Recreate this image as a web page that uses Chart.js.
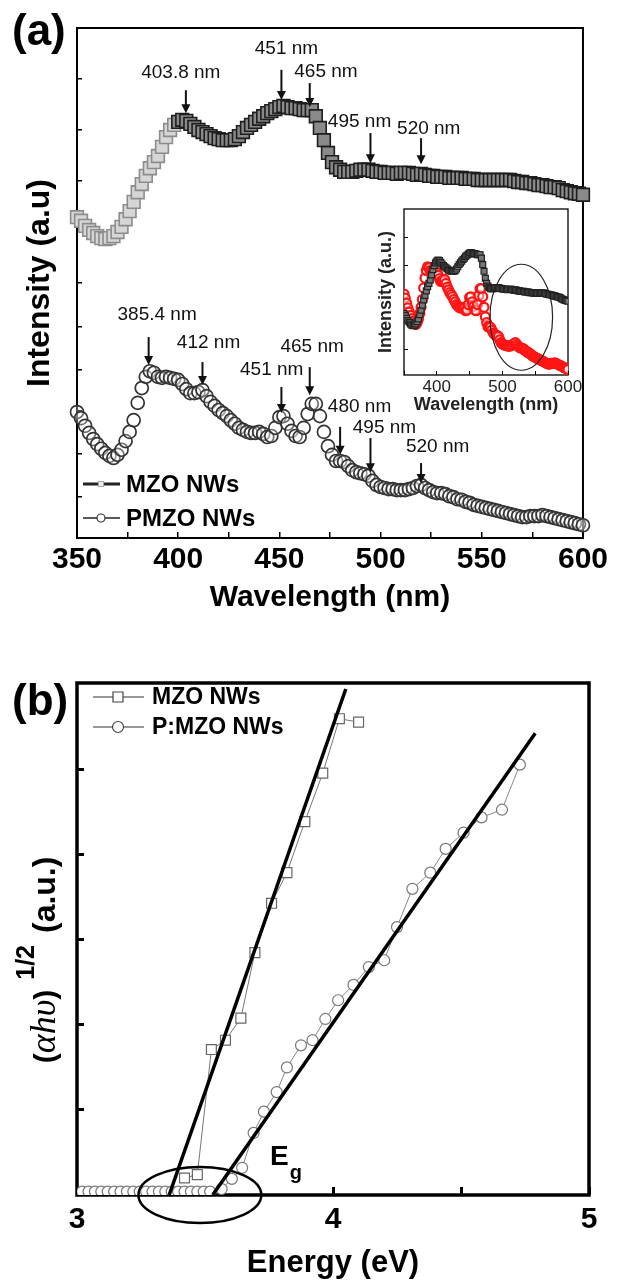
<!DOCTYPE html>
<html>
<head>
<meta charset="utf-8">
<script src="https://cdn.jsdelivr.net/npm/chart.js@4.4.0/dist/chart.umd.min.js"></script>
<style>
  body { margin: 0; background: #fff; width: 618px; height: 1288px; position: relative; overflow: hidden;
         font-family: "Liberation Sans", Arial, sans-serif; }
  .box { position: absolute; }
  .tag { position: absolute; font-weight: bold; font-size: 44px; line-height: 1; }
</style>
</head>
<body>
<div class="box" style="left:0;top:0;width:618px;height:620px"><canvas id="plChart"></canvas></div>
<div class="box" style="left:360px;top:195px;width:250px;height:230px"><canvas id="insetChart"></canvas></div>
<div class="box" style="left:0;top:640px;width:618px;height:648px"><canvas id="taucChart"></canvas></div>
<div class="tag" style="left:12px;top:8px">(a)</div>
<div class="tag" style="left:12px;top:678px">(b)</div>
<script>
Chart.defaults.font.family = '"Liberation Sans", Arial, sans-serif';
Chart.defaults.color = '#000';

// PL spectra, sampled every 2 nm from 350 nm
const wlStart = 350, wlStep = 2;
const mzoPL = [
  6.29, 6.22, 6.12, 6.04, 5.98, 5.92, 5.88, 5.86, 5.88, 5.92,
  6.00, 6.10, 6.25, 6.41, 6.59, 6.78, 6.94, 7.10, 7.25, 7.37,
  7.49, 7.67, 7.86, 8.00, 8.10, 8.16, 8.20, 8.18, 8.12, 8.06,
  8.00, 7.96, 7.92, 7.88, 7.84, 7.82, 7.80, 7.80, 7.80, 7.82,
  7.88, 7.96, 8.04, 8.10, 8.16, 8.22, 8.27, 8.33, 8.37, 8.41,
  8.45, 8.47, 8.45, 8.43, 8.43, 8.41, 8.39, 8.39, 8.39, 8.27,
  8.04, 7.80, 7.55, 7.37, 7.27, 7.22, 7.18, 7.18, 7.18, 7.20,
  7.22, 7.22, 7.22, 7.20, 7.18, 7.18, 7.16, 7.16, 7.16, 7.14,
  7.16, 7.16, 7.16, 7.14, 7.12, 7.14, 7.12, 7.10, 7.10, 7.08,
  7.08, 7.08, 7.06, 7.06, 7.06, 7.06, 7.04, 7.04, 7.04, 7.02,
  7.02, 7.02, 7.02, 7.02, 7.02, 7.02, 7.02, 7.02, 7.00, 6.98,
  6.98, 6.96, 6.96, 6.94, 6.92, 6.92, 6.90, 6.88, 6.88, 6.86,
  6.82, 6.80, 6.78, 6.76, 6.75, 6.73
];
const pmzoPL = [
  2.47, 2.35, 2.20, 2.06, 1.94, 1.84, 1.75, 1.67, 1.61, 1.57,
  1.63, 1.73, 1.90, 2.08, 2.31, 2.65, 2.94, 3.16, 3.27, 3.24,
  3.16, 3.14, 3.16, 3.14, 3.12, 3.10, 3.02, 2.92, 2.84, 2.84,
  2.86, 2.90, 2.78, 2.67, 2.59, 2.51, 2.45, 2.39, 2.31, 2.24,
  2.16, 2.12, 2.08, 2.06, 2.06, 2.08, 2.04, 1.98, 2.00, 2.16,
  2.37, 2.39, 2.24, 2.10, 2.00, 1.98, 2.16, 2.43, 2.63, 2.63,
  2.39, 2.08, 1.80, 1.63, 1.51, 1.51, 1.49, 1.41, 1.33, 1.29,
  1.27, 1.25, 1.22, 1.12, 1.04, 1.00, 0.98, 0.96, 0.96, 0.94,
  0.94, 0.94, 0.96, 0.98, 1.02, 1.04, 0.98, 0.94, 0.90, 0.88,
  0.88, 0.86, 0.82, 0.80, 0.76, 0.75, 0.71, 0.69, 0.65, 0.63,
  0.61, 0.59, 0.57, 0.55, 0.53, 0.51, 0.49, 0.47, 0.45, 0.43,
  0.41, 0.41, 0.43, 0.43, 0.43, 0.45, 0.43, 0.41, 0.39, 0.37,
  0.35, 0.33, 0.31, 0.29, 0.27, 0.25
];
const wavelength = mzoPL.map((_, i) => wlStart + i * wlStep);

const intensityTicks = [0.8, 1.65, 2.5, 3.3, 4.15, 5, 6, 7, 8, 9];
const insetTicks = [5, 6, 7, 8, 9];

// marked emission bands (nm)
const mzoPeaks = [403.8, 451, 465, 495, 520];
const pmzoPeaks = [385.4, 412, 451, 465, 480, 495, 520];

// Tauc plot: energy (eV) vs (alpha h nu)^1/2
const mzoEnergy = [3.42, 3.47, 3.525, 3.58, 3.64, 3.695, 3.76, 3.82, 3.89, 3.96, 4.025, 4.10];
const mzoTauc   = [0.20, 0.24, 1.71, 1.82, 2.08, 2.85, 3.43, 3.79, 4.39, 4.96, 5.60, 5.56];
const pmzoEnergy = [3.02, 3.045, 3.07, 3.095, 3.12, 3.145, 3.17, 3.195, 3.22, 3.245, 3.27,
                    3.295, 3.32, 3.345, 3.37, 3.395, 3.42, 3.445, 3.47, 3.495, 3.52,
                    3.565, 3.605, 3.645, 3.69, 3.73, 3.78, 3.82, 3.875, 3.92, 3.97, 4.02,
                    4.08, 4.14, 4.20, 4.25, 4.31, 4.38, 4.44, 4.51, 4.58, 4.66, 4.73];
const pmzoTauc   = [0.04, 0.04, 0.04, 0.04, 0.04, 0.04, 0.04, 0.04, 0.04, 0.04, 0.04,
                    0.04, 0.04, 0.04, 0.04, 0.04, 0.04, 0.04, 0.04, 0.04, 0.04,
                    0.07, 0.19, 0.32, 0.73, 0.98, 1.21, 1.50, 1.76, 1.82, 2.07, 2.29,
                    2.47, 2.68, 2.76, 3.15, 3.60, 3.79, 4.07, 4.26, 4.44, 4.53, 5.06];
const mzoFitEnergy = [3.36, 4.05],  mzoFitTauc = [0, 5.95];
const pmzoFitEnergy = [3.53, 4.79], pmzoFitTauc = [0, 5.43];
const taucTicks = [1, 2, 3, 4, 5];

const pts = (xs, ys) => xs.map((x, i) => ({ x, y: ys[i] }));
const mzoPts = pts(wavelength, mzoPL);
const pmzoPts = pts(wavelength, pmzoPL);

// caption placement for the arrows: [caption nm, caption level, arrow top, arrow tip]
const mzoPeakPlace = [[401.3, 9.12, 8.78, 8.33], [453.5, 9.59, 9.18, 8.59], [473, 9.14, 8.92, 8.45],
                      [489.6, 8.16, 7.94, 7.35], [523.8, 8.02, 7.84, 7.33]];
const pmzoPeakPlace = [[389.6, 4.37, 3.94, 3.39], [415, 3.82, 3.45, 3.0], [446.2, 3.29, 2.96, 2.45],
                       [466.2, 3.75, 3.35, 2.80], [489.6, 2.57, 2.18, 1.63], [501.9, 2.16, 1.96, 1.29],
                       [528.2, 1.78, 1.47, 1.08]];

function framePlugin(width) {
  return {
    id: 'frame',
    beforeDatasetsDraw(chart) {
      const { ctx, chartArea: a } = chart;
      ctx.save();
      ctx.lineWidth = width;
      ctx.strokeStyle = '#000';
      ctx.strokeRect(a.left, a.top, a.right - a.left, a.bottom - a.top);
      ctx.restore();
    }
  };
}

function drawArrow(ctx, x, y1, y2) {
  ctx.beginPath();
  ctx.moveTo(x, y1);
  ctx.lineTo(x, y2 - 7);
  ctx.stroke();
  ctx.beginPath();
  ctx.moveTo(x - 4.5, y2 - 9);
  ctx.lineTo(x + 4.5, y2 - 9);
  ctx.lineTo(x, y2);
  ctx.closePath();
  ctx.fill();
}

function drawMarker(ctx, style, x, y, r, stroke, fill, lw) {
  ctx.save();
  ctx.lineWidth = lw;
  ctx.strokeStyle = stroke;
  ctx.fillStyle = fill;
  ctx.beginPath();
  if (style === 'rect') ctx.rect(x - r, y - r, 2 * r, 2 * r);
  else ctx.arc(x, y, r, 0, Math.PI * 2);
  ctx.fill();
  ctx.stroke();
  ctx.restore();
}

const peakArrows = {
  id: 'peakArrows',
  afterDatasetsDraw(chart) {
    const { ctx, scales: { x, y } } = chart;
    ctx.save();
    ctx.fillStyle = '#111';
    ctx.strokeStyle = '#111';
    ctx.lineWidth = 2;
    ctx.font = '19px "Liberation Sans", Arial, sans-serif';
    ctx.textAlign = 'center';
    ctx.textBaseline = 'middle';
    const put = (peaks, place) => peaks.forEach((p, i) => {
      const [tx, ty, a1, a2] = place[i];
      ctx.fillText(p + ' nm', x.getPixelForValue(tx), y.getPixelForValue(ty));
      drawArrow(ctx, x.getPixelForValue(p), y.getPixelForValue(a1), y.getPixelForValue(a2));
    });
    put(mzoPeaks, mzoPeakPlace);
    put(pmzoPeaks, pmzoPeakPlace);
    ctx.restore();
  }
};

const plLegend = {
  id: 'plLegend',
  afterDraw(chart) {
    const { ctx, chartArea: a } = chart;
    const rows = [
      { text: 'MZO NWs', y: a.bottom - 54, lw: 3, style: 'rect', r: 2.5, stroke: '#aaa', fill: '#eee' },
      { text: 'PMZO NWs', y: a.bottom - 20, lw: 1.5, style: 'circle', r: 4, stroke: '#333', fill: '#fff' }
    ];
    ctx.save();
    ctx.font = 'bold 24px "Liberation Sans", Arial, sans-serif';
    ctx.textBaseline = 'middle';
    ctx.fillStyle = '#000';
    rows.forEach(r => {
      ctx.strokeStyle = '#222';
      ctx.lineWidth = r.lw;
      ctx.beginPath();
      ctx.moveTo(a.left + 6, r.y);
      ctx.lineTo(a.left + 43, r.y);
      ctx.stroke();
      drawMarker(ctx, r.style, a.left + 24, r.y, r.r, r.stroke, r.fill, 1.2);
      ctx.fillText(r.text, a.left + 49, r.y + 1);
    });
    ctx.restore();
  }
};

const inwardGrid = (len, lw) => ({ drawOnChartArea: false, tickLength: -len, color: '#000', lineWidth: lw });

new Chart(document.getElementById('plChart'), {
  type: 'line',
  data: {
    datasets: [
      {
        label: 'MZO NWs',
        data: mzoPts,
        showLine: false,
        pointStyle: 'rect',
        pointRadius: 9,
        pointBorderWidth: 1.6,
        pointBorderColor: c => (c.raw && c.raw.x < 400 ? '#8c8c8c' : '#1e1e1e'),
        pointBackgroundColor: c => (c.raw && c.raw.x < 400 ? '#d6d6d6' : '#8a8a8a'),
        clip: false
      },
      {
        label: 'PMZO NWs',
        data: pmzoPts,
        showLine: false,
        pointStyle: 'circle',
        pointRadius: 6.5,
        pointBorderWidth: 1.7,
        pointBorderColor: '#333',
        pointBackgroundColor: 'rgba(255,255,255,0.3)',
        clip: false
      }
    ]
  },
  options: {
    responsive: true,
    maintainAspectRatio: false,
    animation: false,
    events: [],
    layout: { padding: { top: 28, right: 29, left: 0, bottom: 0 } },
    plugins: { legend: { display: false }, tooltip: { enabled: false } },
    scales: {
      x: {
        type: 'linear', min: 350, max: 600,
        afterFit(s) { s.height = 82; },
        ticks: { stepSize: 25, autoSkip: false, maxRotation: 0, padding: 10,
                 font: { size: 30, weight: 'bold' }, callback: v => (v % 50 === 0 ? v : '') },
        grid: inwardGrid(6, 1.5),
        border: { display: false },
        title: { display: true, text: 'Wavelength (nm)', font: { size: 30, weight: 'bold' }, padding: { bottom: 4 } }
      },
      y: {
        min: 0, max: 10,
        afterFit(s) { s.width = 77; },
        afterBuildTicks(s) { s.ticks = intensityTicks.map(v => ({ value: v })); },
        ticks: { callback: () => '' },
        grid: inwardGrid(5, 1.5),
        border: { display: false },
        title: { display: true, text: 'Intensity (a.u)', font: { size: 32, weight: 'bold' }, padding: { top: 21 } }
      }
    }
  },
  plugins: [framePlugin(2), peakArrows, plLegend]
});

// inset: both spectra on their own intensity scales
const insetRing = {
  id: 'insetRing',
  afterDatasetsDraw(chart) {
    const { ctx, scales: { x, y } } = chart;
    const cx = x.getPixelForValue(528.8), cy = y.getPixelForValue(6.16);
    const rx = x.getPixelForValue(528.8 + 47.7) - cx;
    const ry = cy - y.getPixelForValue(6.16 + 1.89);
    ctx.save();
    ctx.strokeStyle = '#222';
    ctx.lineWidth = 1.2;
    ctx.beginPath();
    ctx.ellipse(cx, cy, rx, ry, 0, 0, Math.PI * 2);
    ctx.stroke();
    ctx.restore();
  }
};

new Chart(document.getElementById('insetChart'), {
  type: 'line',
  data: {
    datasets: [
      {
        label: 'MZO NWs',
        data: mzoPts,
        yAxisID: 'y',
        showLine: false,
        pointStyle: 'rect',
        pointRadius: 4.2,
        pointBorderWidth: 1.2,
        pointBorderColor: '#222',
        pointBackgroundColor: '#777'
      },
      {
        label: 'PMZO NWs',
        data: pmzoPts,
        yAxisID: 'y2',
        showLine: false,
        pointStyle: 'circle',
        pointRadius: 4.5,
        pointBorderWidth: 2.2,
        pointBorderColor: '#ff1414',
        pointBackgroundColor: 'rgba(255,255,255,0.4)'
      }
    ]
  },
  options: {
    responsive: true,
    maintainAspectRatio: false,
    animation: false,
    events: [],
    layout: { padding: { top: 14, right: 42, left: 0, bottom: 0 } },
    plugins: { legend: { display: false }, tooltip: { enabled: false } },
    scales: {
      x: {
        type: 'linear', min: 350, max: 600,
        afterFit(s) { s.height = 50; },
        ticks: { stepSize: 50, autoSkip: false, maxRotation: 0, padding: 6, color: '#222',
                 font: { size: 17 }, callback: v => (v % 100 === 0 ? v : '') },
        grid: inwardGrid(4, 1),
        border: { display: false },
        title: { display: true, text: 'Wavelength (nm)', color: '#222', font: { size: 18, weight: 'bold' }, padding: { bottom: 9 } }
      },
      y: {
        min: 4.1, max: 10.02,
        afterFit(s) { s.width = 44; },
        afterBuildTicks(s) { s.ticks = insetTicks.map(v => ({ value: v })); },
        ticks: { callback: () => '' },
        grid: inwardGrid(4, 1),
        border: { display: false },
        title: { display: true, text: 'Intensity (a.u.)', color: '#222', font: { size: 18, weight: 'bold' }, padding: { top: 15 } }
      },
      y2: { min: 0.09, max: 4.97, display: false }
    }
  },
  plugins: [framePlugin(1.3), insetRing]
});

// Tauc plot decorations: legend, band-gap ring, E_g label and the y title
const taucDecor = {
  id: 'taucDecor',
  afterDraw(chart) {
    const { ctx, chartArea: a, scales: { x, y } } = chart;
    ctx.save();

    // band-gap ring
    const cx = x.getPixelForValue(3.48), cy = y.getPixelForValue(0);
    ctx.strokeStyle = '#000';
    ctx.lineWidth = 2.5;
    ctx.beginPath();
    ctx.ellipse(cx, cy, x.getPixelForValue(3.72) - cx, cy - y.getPixelForValue(0.33), 0, 0, Math.PI * 2);
    ctx.stroke();

    // E_g
    const ex = x.getPixelForValue(3.754), ey = y.getPixelForValue(0.35);
    ctx.fillStyle = '#000';
    ctx.textBaseline = 'alphabetic';
    ctx.font = 'bold 28px "Liberation Sans", Arial, sans-serif';
    ctx.fillText('E', ex, ey);
    const ew = ctx.measureText('E').width;
    ctx.font = 'bold 20px "Liberation Sans", Arial, sans-serif';
    ctx.fillText('g', ex + ew + 1, ey + 14);

    // legend
    const rows = [
      { text: 'MZO NWs', y: a.top + 14, style: 'rect', r: 5 },
      { text: 'P:MZO NWs', y: a.top + 44, style: 'circle', r: 5.5 }
    ];
    ctx.font = 'bold 23px "Liberation Sans", Arial, sans-serif';
    ctx.textBaseline = 'middle';
    rows.forEach(r => {
      ctx.strokeStyle = '#333';
      ctx.lineWidth = 1.2;
      ctx.beginPath();
      ctx.moveTo(a.left + 16, r.y);
      ctx.lineTo(a.left + 67, r.y);
      ctx.stroke();
      drawMarker(ctx, r.style, a.left + 41, r.y, r.r, '#444', '#fff', 1.2);
      ctx.fillStyle = '#000';
      ctx.fillText(r.text, a.left + 75, r.y + 1);
    });

    // y title: (αhυ)^1/2 (a.u.)
    ctx.translate(55, y.getPixelForValue(1.55));
    ctx.rotate(-Math.PI / 2);
    ctx.textBaseline = 'alphabetic';
    const parts = [
      { t: '(', f: 'bold 30px "Liberation Sans", Arial, sans-serif', dy: 0, gap: 0 },
      { t: 'αhυ', f: 'italic 36px "Liberation Serif", serif', dy: 0, gap: 0 },
      { t: ')', f: 'bold 30px "Liberation Sans", Arial, sans-serif', dy: 0, gap: 0 },
      { t: '1/2', f: 'bold 25px "Liberation Sans", Arial, sans-serif', dy: -21, gap: 10 },
      { t: '(a.u.)', f: 'bold 32px "Liberation Sans", Arial, sans-serif', dy: 0, gap: 12 }
    ];
    let px = 0;
    parts.forEach(p => {
      ctx.font = p.f;
      px += p.gap;
      ctx.fillText(p.t, px, p.dy);
      px += ctx.measureText(p.t).width;
    });
    ctx.restore();
  }
};

new Chart(document.getElementById('taucChart'), {
  type: 'line',
  data: {
    datasets: [
      { label: 'MZO fit', data: pts(mzoFitEnergy, mzoFitTauc), borderColor: '#000', borderWidth: 3.5, pointRadius: 0 },
      { label: 'P:MZO fit', data: pts(pmzoFitEnergy, pmzoFitTauc), borderColor: '#000', borderWidth: 3.5, pointRadius: 0 },
      {
        label: 'MZO NWs',
        data: pts(mzoEnergy, mzoTauc),
        borderColor: '#777', borderWidth: 1,
        pointStyle: 'rect', pointRadius: 7, pointBorderWidth: 1.2,
        pointBorderColor: '#666', pointBackgroundColor: '#fff'
      },
      {
        label: 'P:MZO NWs',
        data: pts(pmzoEnergy, pmzoTauc),
        borderColor: '#888', borderWidth: 1,
        pointStyle: 'circle', pointRadius: 5.5, pointBorderWidth: 1.2,
        pointBorderColor: '#777', pointBackgroundColor: '#fff',
        clip: 0
      }
    ]
  },
  options: {
    responsive: true,
    maintainAspectRatio: false,
    animation: false,
    events: [],
    layout: { padding: { top: 43, right: 29, left: 0, bottom: 0 } },
    plugins: { legend: { display: false }, tooltip: { enabled: false } },
    scales: {
      x: {
        type: 'linear', min: 3, max: 5,
        afterFit(s) { s.height = 93; },
        ticks: { stepSize: 0.5, autoSkip: false, maxRotation: 0, padding: 15,
                 font: { size: 30, weight: 'bold' }, callback: v => (Number.isInteger(v) ? v : '') },
        grid: inwardGrid(8, 3),
        border: { display: false },
        title: { display: true, text: 'Energy (eV)', font: { size: 31, weight: 'bold' }, padding: { bottom: 6 } }
      },
      y: {
        min: 0, max: 6.02,
        afterFit(s) { s.width = 77; },
        afterBuildTicks(s) { s.ticks = taucTicks.map(v => ({ value: v })); },
        ticks: { callback: () => '' },
        grid: inwardGrid(7, 3),
        border: { display: false }
      }
    }
  },
  plugins: [framePlugin(3.5), taucDecor]
});
</script>
</body>
</html>
